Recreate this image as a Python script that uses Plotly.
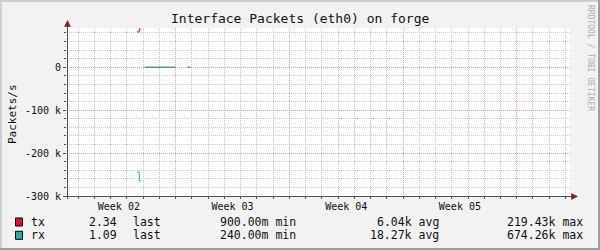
import datetime
import plotly.graph_objects as go

# ---------------- data ----------------
title = "Interface Packets (eth0) on forge"
y_title = "Packets/s"
watermark = "RRDTOOL / TOBI OETIKER"
series = ["tx", "rx"]
colors = ["#e0103c", "#20b2aa"]
times = ["2010-01-15 14:49", "2010-01-15 18:13", "2010-01-15 20:43", "2010-01-15 20:44",
         "2010-01-16 02:11", "2010-01-17 23:24", "2010-01-17 23:25",
         "2010-01-18 17:44", "2010-01-18 21:26"]
tx = [82300, 89300, 89300, None, 2, 2, None, 2, 2]
rx = [-244000, -265000, -265000, None, -1, -1, None, -1, -1]
week_starts = ["2010-01-11", "2010-01-18", "2010-01-25", "2010-02-01", "2010-02-08"]
week_mids = ["2010-01-14 12:00", "2010-01-21 12:00", "2010-01-28 12:00", "2010-02-04 12:00"]
week_labels = ["Week 02", "Week 03", "Week 04", "Week 05"]
y_ticks = [0, -100000, -200000, -300000]
y_tick_labels = ["0", "-100 k", "-200 k", "-300 k"]
last_vals = ["2.34", "1.09"]
min_vals = ["900.00m", "240.00m"]
avg_vals = ["6.04k", "18.27k"]
max_vals = ["219.43k", "674.26k"]
x_range = ["2010-01-11 07:22", "2010-02-11 06:43"]
y_range = [-300000, 91500]

# minor grid positions (every day / every 20k, skipping major positions)
d0 = datetime.datetime(2010, 1, 11)
x_minor = [(d0 + datetime.timedelta(days=k)).strftime("%Y-%m-%d") for k in range(0, 32) if k % 7 != 0]
y_minor = [v for v in range(-300000, 91500, 20000) if v % 100000 != 0]

# ---------------- layout geometry ----------------
W, H = 600, 250
L, R, T, B = 67, 30, 28, 54
PW, PH = W - L - R, H - T - B
FONT = "DejaVu Sans Mono"
BG = "#f2f2f2"
MAJ = "#eda0a0"
MIN = "#c8c8c8"
AX = "#505050"
ARROW = "#801f1f"
DASH = "1px,1px"


def px(x):
    return (x - L) / PW


def py(y):
    return (H - B - y) / PH


fig = go.Figure()
for name, vals, col in zip(series, [tx, rx], colors):
    fig.add_trace(go.Scatter(x=times, y=vals, mode="lines", line=dict(color=col, width=1, shape="hv"),
                             connectgaps=False, name=name, hoverinfo="skip"))
# helper traces for the overlay axes (labels / major grid)
fig.add_trace(go.Scatter(x=week_mids, y=[None] * len(week_mids), xaxis="x2", yaxis="y",
                         mode="lines", showlegend=False, hoverinfo="skip"))
fig.add_trace(go.Scatter(x=week_starts, y=[None] * len(week_starts), xaxis="x3", yaxis="y2",
                         mode="lines", showlegend=False, hoverinfo="skip"))

shapes = []
# frame
shapes.append(dict(type="rect", xref="paper", yref="paper", x0=px(0), x1=px(600), y0=py(0), y1=py(2),
                   fillcolor="#cfcfcf", line=dict(width=0), layer="above"))
shapes.append(dict(type="rect", xref="paper", yref="paper", x0=px(0), x1=px(2), y0=py(0), y1=py(250),
                   fillcolor="#cfcfcf", line=dict(width=0), layer="above"))
shapes.append(dict(type="rect", xref="paper", yref="paper", x0=px(0), x1=px(600), y0=py(248), y1=py(250),
                   fillcolor="#9e9e9e", line=dict(width=0), layer="above"))
shapes.append(dict(type="rect", xref="paper", yref="paper", x0=px(598), x1=px(600), y0=py(0), y1=py(250),
                   fillcolor="#9e9e9e", line=dict(width=0), layer="above"))
# axis lines
shapes.append(dict(type="line", xref="paper", yref="paper", x0=px(67.5), x1=px(67.5), y0=py(199), y1=py(24),
                   line=dict(color=AX, width=1), layer="above"))
shapes.append(dict(type="line", xref="paper", yref="paper", x0=px(63), x1=px(574), y0=py(196.5), y1=py(196.5),
                   line=dict(color=AX, width=1), layer="above"))
# arrow heads
shapes.append(dict(type="path", xref="paper", yref="paper",
                   path=f"M {px(67.5)} {py(20.5)} L {px(64.5)} {py(26.5)} L {px(70.5)} {py(26.5)} Z",
                   fillcolor=ARROW, line=dict(color=ARROW, width=0.5), layer="above"))
shapes.append(dict(type="path", xref="paper", yref="paper",
                   path=f"M {px(577.5)} {py(196.5)} L {px(571.5)} {py(193.5)} L {px(571.5)} {py(199.5)} Z",
                   fillcolor=ARROW, line=dict(color=ARROW, width=0.5), layer="above"))
# legend swatches
for i, col in enumerate(colors):
    yc = 222 + 13.3 * i
    shapes.append(dict(type="rect", xref="paper", yref="paper", x0=px(15.5), x1=px(22.5),
                       y0=py(yc - 4), y1=py(yc + 4), fillcolor=col,
                       line=dict(color="#000000", width=1), layer="above"))

annotations = []
annotations.append(dict(text=title, x=px(300), y=py(18.5), xref="paper", yref="paper", showarrow=False,
                        xanchor="center", yanchor="middle", font=dict(family=FONT, size=13, color="#111111")))
annotations.append(dict(text=y_title, x=px(12), y=py(114), xref="paper", yref="paper", showarrow=False,
                        textangle=-90, xanchor="center", yanchor="middle",
                        font=dict(family=FONT, size=11, color="#111111")))
annotations.append(dict(text=watermark, x=px(591), y=py(58), xref="paper", yref="paper", showarrow=False,
                        textangle=90, xanchor="center", yanchor="middle",
                        font=dict(family=FONT, size=8, color="#b0b0b0")))
for i, name in enumerate(series):
    yc = 222 + 13.3 * i
    lf = dict(family=FONT, size=11.5, color="#111111")
    items = [
        (name, 30, "left"),
        (last_vals[i], 118, "right"),
        ("last", 132, "left"),
        (min_vals[i] + " min", 297, "right"),
        (avg_vals[i] + " avg", 440, "right"),
        (max_vals[i] + " max", 584, "right"),
    ]
    for txt, xx, anc in items:
        annotations.append(dict(text=txt, x=px(xx), y=py(yc), xref="paper", yref="paper", showarrow=False,
                                xanchor=anc, yanchor="middle", font=lf, borderpad=0))

fig.update_layout(
    width=W, height=H,
    margin=dict(l=L, r=R, t=T, b=B, pad=0),
    paper_bgcolor=BG, plot_bgcolor="#ffffff",
    showlegend=False,
    font=dict(family=FONT, size=10, color="#111111"),
    shapes=shapes, annotations=annotations,
    # primary axes: minor (gray) grid + tick marks
    xaxis=dict(type="date", range=x_range, tickmode="array", tickvals=week_starts,
               showticklabels=False, ticks="outside", ticklen=2, tickcolor=AX,
               showgrid=False, zeroline=False, showline=False,
               minor=dict(tickmode="array", tickvals=x_minor, showgrid=True,
                          gridcolor=MIN, griddash=DASH, gridwidth=1,
                          ticks="outside", ticklen=2, tickcolor=AX)),
    yaxis=dict(range=y_range, tickmode="array", tickvals=y_ticks, ticktext=y_tick_labels,
               ticks="outside", ticklen=3, tickcolor=AX,
               showgrid=False, zeroline=False, showline=False,
               tickfont=dict(family=FONT, size=10, color="#111111"),
               minor=dict(tickmode="array", tickvals=y_minor, showgrid=True,
                          gridcolor=MIN, griddash=DASH, gridwidth=1,
                          ticks="outside", ticklen=2, tickcolor=AX)),
    # week labels
    xaxis2=dict(type="date", overlaying="x", matches="x", anchor="y", side="bottom",
                tickmode="array", tickvals=week_mids, ticktext=week_labels,
                showgrid=False, ticks="", showline=False, zeroline=False, ticklabelstandoff=3,
                tickfont=dict(family=FONT, size=10, color="#111111")),
    # major (red) grid
    xaxis3=dict(type="date", overlaying="x", matches="x", anchor="y2", side="bottom",
                tickmode="array", tickvals=week_starts, showticklabels=False, ticks="",
                showgrid=True, gridcolor=MAJ, griddash=DASH, gridwidth=1,
                zeroline=False, showline=False),
    yaxis2=dict(overlaying="y", matches="y", anchor="x3", side="left",
                tickmode="array", tickvals=y_ticks, showticklabels=False, ticks="",
                showgrid=True, gridcolor=MAJ, griddash=DASH, gridwidth=1,
                zeroline=False, showline=False),
)

fig.write_html("out.html")
